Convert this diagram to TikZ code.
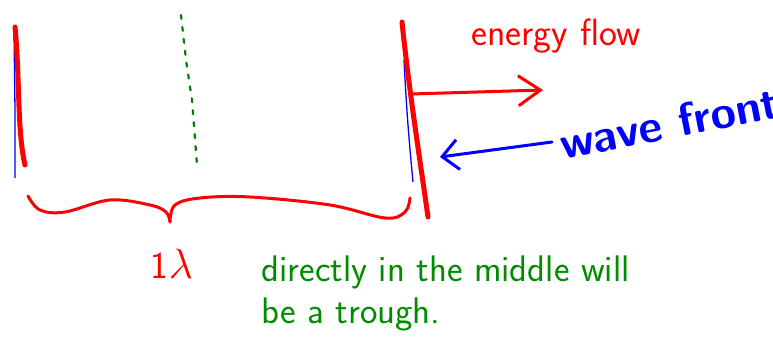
\documentclass[tikz,border=0pt]{standalone}
\usetikzlibrary{arrows.meta, positioning, calc}
\begin{document}
\begin{tikzpicture}[x=1pt, y=-1pt,
    front/.style = {red, line width=5pt, line cap=round},
    edge/.style = {blue, line width=1.3pt},
    middle/.style = {green!50!black, line width=2.2pt, dash pattern=on 4pt off 8pt, line cap=round},
    flow/.style = {-{Straight Barb[length=22pt, width=30pt, line width=3pt]}, red, line width=3pt, line cap=round},
    point/.style = {-{Straight Barb[length=16pt, width=30pt, line width=3pt]}, blue, line width=3pt, line cap=round},
    redtext/.style = {red, font=\sffamily\fontsize{38}{38}\selectfont},
    bluetext/.style = {blue, font=\sffamily\bfseries\fontsize{46}{46}\selectfont},
    greentext/.style = {green!55!black, font=\sffamily\fontsize{37}{42}\selectfont, align=left}
]
\useasboundingbox (0,0) rectangle (773,339);

% wave fronts
\draw[edge] (14,30) -- (15,110) -- (15,178);
\draw[front] (15,27) .. controls (20,80) and (17,130) .. (25,165);
\draw[edge] (404,60) .. controls (407,120) and (410,150) .. (413,182);
\draw[front] (402,22) .. controls (409,90) and (420,160) .. (428,217);
\draw[middle] (181,15) -- (186,60) -- (192,100) -- (197,165);

% brace
\draw[red, line width=3pt, line cap=round] plot[smooth, tension=0.6] coordinates
  {(28,196) (40,210) (65,212) (110,200) (150,205) (166,212) (170,222)};
\draw[red, line width=3pt, line cap=round] plot[smooth, tension=0.6] coordinates
  {(170,222) (175,205) (200,198) (250,197) (330,205) (385,218) (405,212) (410,198)};

% labels
\node[redtext] (energy) at (556,36) {energy flow};
\node[bluetext, rotate=11, anchor=base west] (wavefront) at (560,160) {wave front};
\node[redtext] (lambda) at (172,264) {1\scalebox{1.7}{$\lambda$}};
\node[greentext, anchor=north west] (note) at (258,252) {directly in the middle will\\be a trough.};

% arrows
\coordinate (flowstart) at (411,94);
\coordinate (flowend) at (543,90);
\coordinate (fronttip) at (440,157);
\draw[flow] (flowstart) -- (flowend);
\draw[point] (wavefront.base west) ++(-8,-18) -- (fronttip);

\end{tikzpicture}
\end{document}
